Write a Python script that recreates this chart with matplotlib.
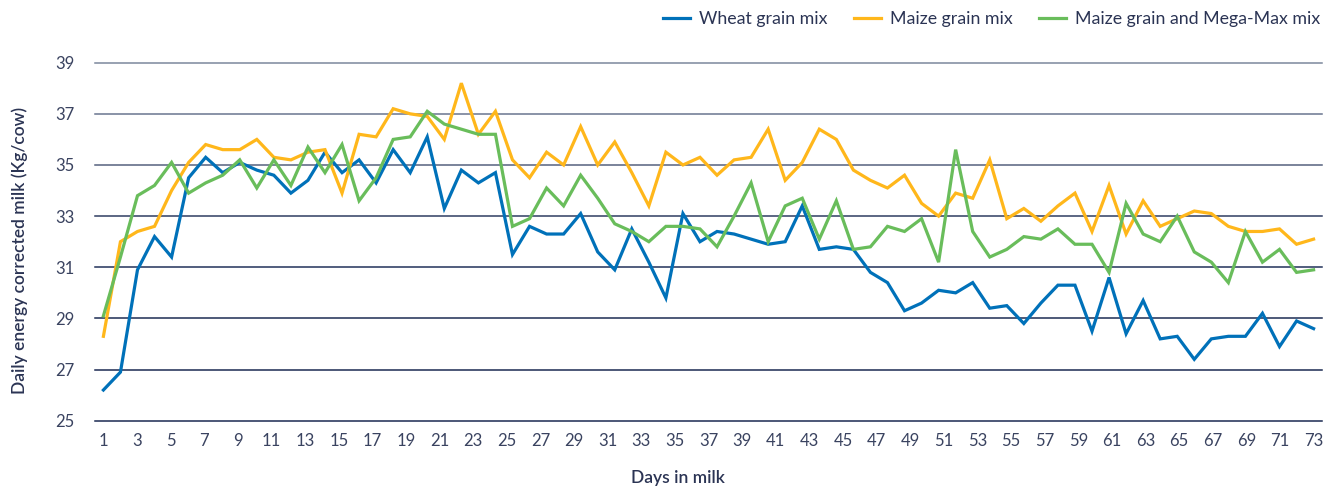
import numpy as np
import matplotlib
matplotlib.use("Agg")
import matplotlib.pyplot as plt

# daily energy corrected milk, kg/cow (72 readings spread over days 1-73 on the chart)
wheat = [26.2, 26.9, 30.9, 32.2, 31.4, 34.5, 35.3, 34.7, 35.1, 34.8,
         34.6, 33.9, 34.4, 35.5, 34.7, 35.2, 34.3, 35.6, 34.7, 36.1,
         33.3, 34.8, 34.3, 34.7, 31.5, 32.6, 32.3, 32.3, 33.1, 31.6,
         30.9, 32.5, 31.2, 29.8, 33.1, 32.0, 32.4, 32.3, 32.1, 31.9,
         32.0, 33.4, 31.7, 31.8, 31.7, 30.8, 30.4, 29.3, 29.6, 30.1,
         30.0, 30.4, 29.4, 29.5, 28.8, 29.6, 30.3, 30.3, 28.5, 30.6,
         28.4, 29.7, 28.2, 28.3, 27.4, 28.2, 28.3, 28.3, 29.2, 27.9,
         28.9, 28.6]
maize = [28.3, 32.0, 32.4, 32.6, 34.0, 35.1, 35.8, 35.6, 35.6, 36.0,
         35.3, 35.2, 35.5, 35.6, 33.9, 36.2, 36.1, 37.2, 37.0, 36.9,
         36.0, 38.2, 36.2, 37.1, 35.2, 34.5, 35.5, 35.0, 36.5, 35.0,
         35.9, 34.7, 33.4, 35.5, 35.0, 35.3, 34.6, 35.2, 35.3, 36.4,
         34.4, 35.1, 36.4, 36.0, 34.8, 34.4, 34.1, 34.6, 33.5, 33.0,
         33.9, 33.7, 35.2, 32.9, 33.3, 32.8, 33.4, 33.9, 32.4, 34.2,
         32.3, 33.6, 32.6, 32.9, 33.2, 33.1, 32.6, 32.4, 32.4, 32.5,
         31.9, 32.1]
megamax = [29.1, 31.4, 33.8, 34.2, 35.1, 33.9, 34.3, 34.6, 35.2, 34.1,
           35.2, 34.2, 35.7, 34.7, 35.8, 33.6, 34.5, 36.0, 36.1, 37.1,
           36.6, 36.4, 36.2, 36.2, 32.6, 32.9, 34.1, 33.4, 34.6, 33.7,
           32.7, 32.4, 32.0, 32.6, 32.6, 32.5, 31.8, 33.0, 34.3, 32.0,
           33.4, 33.7, 32.1, 33.6, 31.7, 31.8, 32.6, 32.4, 32.9, 31.2,
           35.6, 32.4, 31.4, 31.7, 32.2, 32.1, 32.5, 31.9, 31.9, 30.8,
           33.5, 32.3, 32.0, 33.0, 31.6, 31.2, 30.4, 32.4, 31.2, 31.7,
           30.8, 30.9]
labels = ["Wheat grain mix", "Maize grain mix", "Maize grain and Mega-Max mix"]
colors = ["#0071b9", "#ffb71b", "#69bd5b"]
day_ticks = list(range(1, 74, 2))
y_ticks = list(range(25, 40, 2))

txt = "#2b3454"
plt.rcParams['font.family'] = ['Lato', 'DejaVu Sans']

W, H = 1335, 490
fig = plt.figure(figsize=(W / 100, H / 100), dpi=100)
ax = fig.add_axes([95 / W, 1 - 420.7 / H, (1322 - 95) / W, (420.7 - 62.7) / H])

x = np.linspace(day_ticks[0], day_ticks[-1], len(wheat))
for series, lab, col in zip([wheat, maize, megamax], labels, colors):
    ax.plot(x, series, color=col, lw=2.3, label=lab, solid_joinstyle='miter', zorder=3)

# gridlines fade from slate at the top to navy at the bottom
grid_cols = ["#1b2a52", "#1b2a52", "#1d2c54", "#22315a", "#2f3d62", "#56627e", "#6a7590", "#7c879c"]
for yv, gc in zip(y_ticks, grid_cols):
    ax.axhline(yv, color=gc, lw=1.1, zorder=1, clip_on=False)

ax.set_xlim(0.5, 73.5)
ax.set_ylim(25, 39)
ax.set_xticks(day_ticks)
ax.set_yticks(y_ticks)
for s in ax.spines.values():
    s.set_visible(False)
ax.tick_params(axis='x', length=0, pad=9, labelsize=12, labelcolor="#3a4360")
ax.tick_params(axis='y', length=0, pad=15, labelsize=12, labelcolor="#3a4360")

fig.text(20 / W, 1 - 250 / H, "Daily energy corrected milk (Kg/cow)", rotation=90,
         ha='center', va='center', fontsize=12.5, fontweight='semibold', color=txt)
fig.text(678 / W, 1 - 478 / H, "Days in milk", ha='center', va='center',
         fontsize=12.5, fontweight='semibold', color=txt)

fig.legend(loc='upper right', bbox_to_anchor=(1336 / W, 1 + 5 / H), ncol=3, frameon=False,
           fontsize=12.8, labelcolor=txt, handlelength=1.5, handletextpad=0.5,
           columnspacing=1.5)

fig.savefig("out.png", dpi=100)
